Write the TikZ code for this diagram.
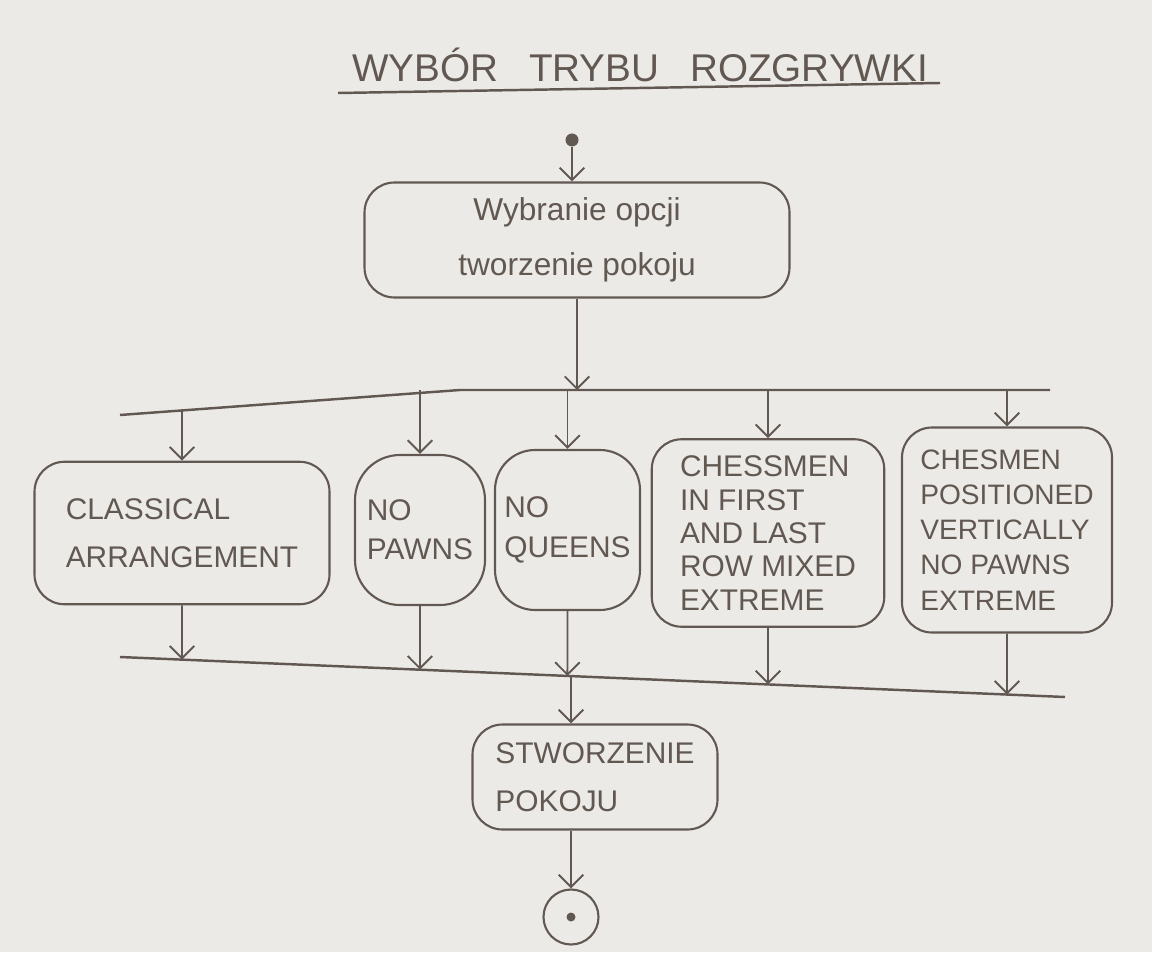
\documentclass[tikz,border=0pt]{standalone}
\usepackage{fontspec}
\setmainfont{Liberation Sans}
\usepackage{tikz}
\usetikzlibrary{positioning,arrows.meta,calc}
\definecolor{pencil}{RGB}{98,88,82}
\definecolor{paper}{RGB}{236,234,231}

\begin{document}
\begin{tikzpicture}[
  act/.style={draw=pencil, line width=1.2pt, rounded corners=0.6cm, text=pencil,
    font=\fontsize{17}{21}\selectfont, align=left, inner sep=4pt},
  bar/.style={pencil, line width=1.4pt},
  flow/.style={pencil, line width=1.1pt, -{Straight Barb[length=7pt,width=14pt]}}
]
  % Paper
  \fill[paper] (0,0) rectangle (23.04,19.04);
  \useasboundingbox (0,0) rectangle (23.04,19.04);

  % Title
  \node[text=pencil, font=\fontsize{22}{26}\selectfont] (title) at (12.8,17.74)
    {WYBÓR\hspace{0.8em}TRYBU\hspace{0.8em}ROZGRYWKI};
  \draw[bar] (6.76,17.18) -- (18.8,17.38);

  % Start and first action
  \node[circle, fill=pencil, inner sep=0pt, minimum size=0.26cm] (start) at (11.44,16.24) {};
  \node[act, align=center, font=\fontsize{18}{31}\selectfont,
    minimum width=8.5cm, minimum height=2.3cm] (choose) at (11.54,14.24)
    {Wybranie opcji\\tworzenie pokoju};
  \draw[flow] (start) -- (start |- choose.north);

  % Fork bar
  \coordinate (forkL) at (2.4,10.74);
  \coordinate (forkM) at (9.2,11.24);
  \coordinate (forkR) at (21.0,11.24);
  \draw[bar] (forkL) -- (forkM) -- (forkR);
  \draw[flow] (choose.south) -- (choose.south |- forkR);

  % Game modes
  \node[act, minimum width=5.9cm, minimum height=2.85cm,
    font=\fontsize{17}{27}\selectfont] (cls) at (3.64,8.38)
    {CLASSICAL\\ARRANGEMENT};
  \node[act, rounded corners=0.9cm, minimum width=2.6cm, minimum height=3.0cm,
    font=\fontsize{17}{22}\selectfont] (nopawns) at (8.4,8.44)
    {NO\\PAWNS};
  \node[act, rounded corners=0.8cm, minimum width=2.9cm, minimum height=3.2cm,
    font=\fontsize{17}{23}\selectfont] (noqueens) at (11.35,8.44)
    {NO\\QUEENS};
  \node[act, minimum width=4.65cm, minimum height=3.75cm,
    font=\fontsize{17}{19}\selectfont] (mixed) at (15.36,8.38)
    {CHESSMEN\\IN FIRST\\AND LAST\\ROW MIXED\\EXTREME};
  \node[act, minimum width=4.2cm, minimum height=4.1cm,
    font=\fontsize{16}{20}\selectfont] (vert) at (20.14,8.44)
    {CHESMEN\\POSITIONED\\VERTICALLY\\NO PAWNS\\EXTREME};

  \draw[flow] (intersection of forkL--forkM and cls.north--cls.south) -- (cls.north);
  \foreach \m in {nopawns,noqueens,mixed,vert}
    \draw[flow] (\m.north |- forkR) -- (\m.north);

  % Join bar
  \coordinate (joinL) at (2.4,5.9);
  \coordinate (joinR) at (21.3,5.1);
  \draw[bar] (joinL) -- (joinR);
  \foreach \m in {cls,nopawns,noqueens,mixed,vert}
    \draw[flow] (\m.south) -- (intersection of joinL--joinR and \m.north--\m.south);

  % Room creation and end
  \node[act, minimum width=4.9cm, minimum height=2.1cm,
    font=\fontsize{17}{27}\selectfont] (fin) at (11.9,3.5)
    {STWORZENIE\\POKOJU};
  \node[circle, draw=pencil, line width=1.2pt, minimum size=1.1cm, inner sep=0pt] (stop) at (11.42,0.7) {};
  \fill[pencil] (stop) circle (0.09);

  \coordinate (finTop) at (stop |- fin.north);
  \draw[flow] (intersection of joinL--joinR and finTop--stop) -- (finTop);
  \draw[flow] (stop |- fin.south) -- (stop.north);
\end{tikzpicture}
\end{document}
